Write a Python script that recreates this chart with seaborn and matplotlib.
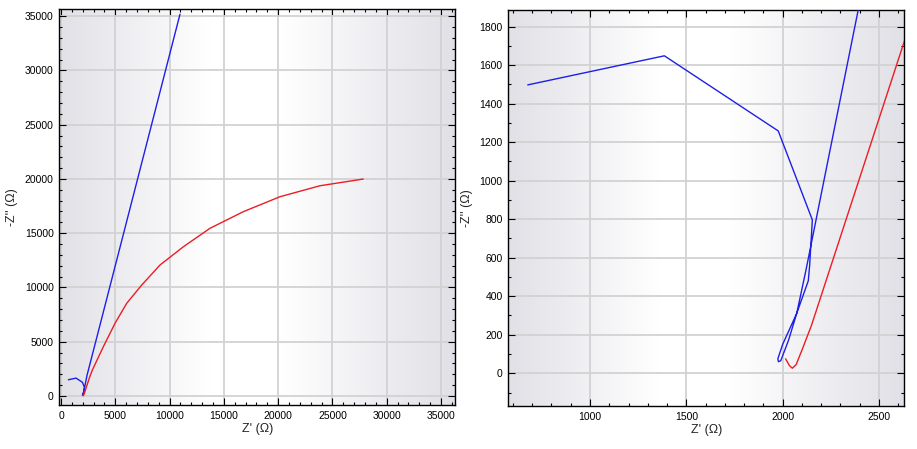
import numpy as np
import matplotlib
matplotlib.use("Agg")
import matplotlib.pyplot as plt
from matplotlib.ticker import MultipleLocator
import seaborn as sns

# Nyquist data: Z' and -Z'' in ohm
blue_zre = [677, 1386, 1977, 2154, 2140, 2133, 2073, 2000, 1975, 1978, 1990,
            2030, 2073, 2121, 2392, 6000, 10960]
blue_zim = [1497, 1648, 1258, 796, 560, 480, 311, 150, 75, 60, 65,
            170, 311, 536, 1886, 15900, 35180]

red_zre = [2015, 2035, 2050, 2070, 2100, 2150, 2640, 2900, 3900, 4970, 6050,
           7430, 9120, 11270, 13720, 16790, 20170, 23850, 27840]
red_zim = [75, 40, 26, 45, 120, 250, 1750, 2420, 4545, 6690, 8540,
           10220, 12070, 13750, 15450, 16980, 18360, 19370, 19990]

# axis ranges of the two panels (full view and zoom on the origin)
full_xlim = (-155, 36290)
full_ylim = (-829, 35615)
zoom_xlim = (576, 2631)
zoom_ylim = (-170, 1886)

sns.set_style("ticks")
plt.rcParams['font.family'] = ['Liberation Sans', 'DejaVu Sans']

fig = plt.figure(figsize=(9.17, 4.49), dpi=100)
ax1 = fig.add_axes([0.0647, 0.098, 0.4315, 0.881])
ax2 = fig.add_axes([0.5543, 0.0958, 0.4318, 0.882])

# horizontal grey-white-grey background gradient
t = np.linspace(0, 1, 400)
w = np.where(t < 0.38, 1 - t / 0.38, np.where(t > 0.56, (t - 0.56) / 0.44, 0.0))
grey = np.array([0.88, 0.88, 0.905])
grad = (1 - w)[:, None] * np.ones(3) + w[:, None] * grey
grad = grad[None, :, :]


def style_axis(ax, xlim, ylim, xmaj, xmin, ymaj, ymin):
    ax.imshow(grad, extent=[0, 1, 0, 1], transform=ax.transAxes,
              aspect='auto', zorder=0, interpolation='bilinear')
    ax.set_xlim(*xlim)
    ax.set_ylim(*ylim)
    ax.xaxis.set_major_locator(MultipleLocator(xmaj))
    ax.xaxis.set_minor_locator(MultipleLocator(xmin))
    ax.yaxis.set_major_locator(MultipleLocator(ymaj))
    ax.yaxis.set_minor_locator(MultipleLocator(ymin))
    ax.grid(True, which='major', color='#d2d2d2', linewidth=1.3)
    ax.set_axisbelow(True)
    ax.tick_params(which='both', direction='in', top=True, right=True,
                   labelsize=7.5, colors='black', pad=4)
    ax.tick_params(which='major', length=5, width=0.8)
    ax.tick_params(which='minor', length=2.5, width=0.8)
    for s in ax.spines.values():
        s.set_color('black')
        s.set_linewidth(1.0)
    ax.set_xlabel("Z' (\u03a9)", fontsize=9, labelpad=2)
    ax.set_ylabel("-Z'' (\u03a9)", fontsize=9, labelpad=5)


for ax in (ax1, ax2):
    sns.lineplot(x=blue_zre, y=blue_zim, sort=False, estimator=None,
                 color='#1f1fe6', linewidth=1.0, ax=ax, zorder=3)
    sns.lineplot(x=red_zre, y=red_zim, sort=False, estimator=None,
                 color='#ec1c24', linewidth=1.0, ax=ax, zorder=3)

style_axis(ax1, full_xlim, full_ylim, 5000, 1000, 5000, 1000)
style_axis(ax2, zoom_xlim, zoom_ylim, 500, 100, 200, 100)

fig.savefig('out.png', dpi=100)
